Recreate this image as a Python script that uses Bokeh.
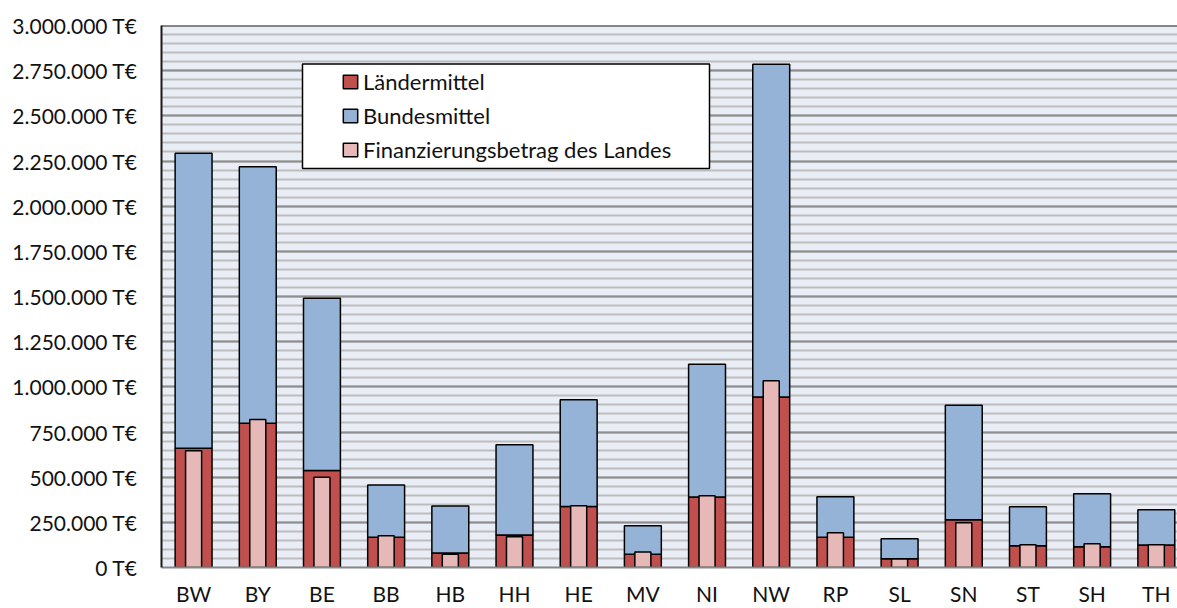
from bokeh.plotting import figure
from bokeh.models import (ColumnDataSource, Range1d, FixedTicker, Legend, LegendItem,
                          Span, BoxAnnotation)
from bokeh.embed import file_html
from bokeh.resources import INLINE

# ---- data (T€) ----
states = ["BW", "BY", "BE", "BB", "HB", "HH", "HE", "MV", "NI", "NW",
          "RP", "SL", "SN", "ST", "SH", "TH"]
laendermittel = [660000, 799000, 537000, 167000, 80000, 180000, 338000, 73000,
                 390000, 944000, 167000, 49000, 264000, 121000, 115000, 124000]
bundesmittel = [1633000, 1419000, 954000, 289000, 260000, 499000, 590000, 158000,
                735000, 1841000, 224000, 110000, 634000, 215000, 293000, 196000]
finanzierungsbetrag = [646000, 819000, 500000, 176000, 73000, 170000, 342000, 86000,
                       397000, 1033000, 192000, 47000, 248000, 126000, 132000, 126000]
y_tick_values = [0, 250000, 500000, 750000, 1000000, 1250000, 1500000, 1750000,
                 2000000, 2250000, 2500000, 2750000, 3000000]
y_tick_labels = ["0 T€", "250.000 T€", "500.000 T€", "750.000 T€", "1.000.000 T€",
                 "1.250.000 T€", "1.500.000 T€", "1.750.000 T€", "2.000.000 T€",
                 "2.250.000 T€", "2.500.000 T€", "2.750.000 T€", "3.000.000 T€"]
y_minor_ticks = list(range(0, 3000001, 50000))

idx = list(range(len(states)))
top_total = [l + b for l, b in zip(laendermittel, bundesmittel)]
src = ColumnDataSource(dict(x=idx, l=laendermittel, tot=top_total, f=finanzierungsbetrag))

FONT = "Lato"
W, H = 1177, 608
ML, MT, MB = 161, 25, 41
X_END = 15.33
FRAME_LEFT, FRAME_RIGHT, FRAME_TOP, FRAME_BOTTOM = 161, 1177, 25, 567

p = figure(width=W, height=H, output_backend="svg", toolbar_location=None,
           x_range=Range1d(-0.5, X_END), y_range=Range1d(0, 3000000),
           min_border_left=ML, min_border_right=0, min_border_top=MT,
           min_border_bottom=MB)
p.background_fill_color = "#E9EDF5"
p.border_fill_color = "white"
p.outline_line_color = None

# grid
p.xgrid.grid_line_color = None
p.ygrid.ticker = FixedTicker(ticks=y_tick_values, minor_ticks=y_minor_ticks)
p.ygrid.grid_line_color = "#8E8E8E"
p.ygrid.grid_line_width = 2
p.ygrid.minor_grid_line_color = "#BDBDBD"
p.ygrid.minor_grid_line_width = 2

# axes
p.yaxis.ticker = FixedTicker(ticks=y_tick_values, minor_ticks=y_minor_ticks)
p.yaxis.major_label_overrides = {v: t for v, t in zip(y_tick_values, y_tick_labels)}
p.yaxis.axis_line_color = "#1A1A1A"
p.yaxis.axis_line_width = 2
p.yaxis.major_tick_line_color = None
p.yaxis.minor_tick_line_color = None
p.yaxis.major_tick_out = 0
p.yaxis.minor_tick_out = 0
p.yaxis.major_label_standoff = 24
p.yaxis.major_label_text_font = FONT
p.yaxis.major_label_text_font_size = "21px"
p.yaxis.major_label_text_color = "#111111"

p.xaxis.ticker = FixedTicker(ticks=idx)
p.xaxis.major_label_overrides = {i: s for i, s in zip(idx, states)}
p.xaxis.axis_line_color = "#868686"
p.xaxis.axis_line_width = 2
p.xaxis.major_tick_line_color = None
p.xaxis.minor_tick_line_color = None
p.xaxis.major_tick_out = 0
p.xaxis.minor_tick_out = 0
p.xaxis.major_label_standoff = 13
p.xaxis.major_label_text_font = FONT
p.xaxis.major_label_text_font_size = "21px"
p.xaxis.major_label_text_color = "#111111"

# top border
p.add_layout(Span(location=3000000, dimension="width", line_color="#1A1A1A", line_width=2))

# bars
r_l = p.vbar(x="x", bottom=0, top="l", width=0.575, source=src,
             fill_color="#C0504D", line_color="black", line_width=1.5)
r_b = p.vbar(x="x", bottom="l", top="tot", width=0.575, source=src,
             fill_color="#95B3D7", line_color="black", line_width=1.5)
r_f = p.vbar(x="x", bottom=0, top="f", width=0.25, source=src,
             fill_color="#E6B9B8", line_color="black", line_width=1.5)

# legend frame (layout only): pixel box converted through the plot's scales
def px_to_x(px):
    return -0.5 + (px - FRAME_LEFT) / (FRAME_RIGHT - FRAME_LEFT) * (X_END + 0.5)
def py_to_y(py):
    return (FRAME_BOTTOM - py) / (FRAME_BOTTOM - FRAME_TOP) * 3000000
p.add_layout(BoxAnnotation(left=px_to_x(302), right=px_to_x(709),
                           top=py_to_y(63.5), bottom=py_to_y(168),
                           fill_color="white", fill_alpha=1.0,
                           line_color="black", line_width=1.5, line_alpha=1.0))

legend = Legend(items=[LegendItem(label="Ländermittel", renderers=[r_l]),
                       LegendItem(label="Bundesmittel", renderers=[r_b]),
                       LegendItem(label="Finanzierungsbetrag des Landes", renderers=[r_f])],
                location=(180, 404), padding=0, margin=0, spacing=7,
                glyph_width=18, glyph_height=17, label_height=22, label_standoff=4,
                border_line_color=None, background_fill_alpha=0,
                label_text_font=FONT, label_text_font_size="22px",
                label_text_color="#111111")
p.add_layout(legend)

open("out.html", "w").write(file_html(p, INLINE))
